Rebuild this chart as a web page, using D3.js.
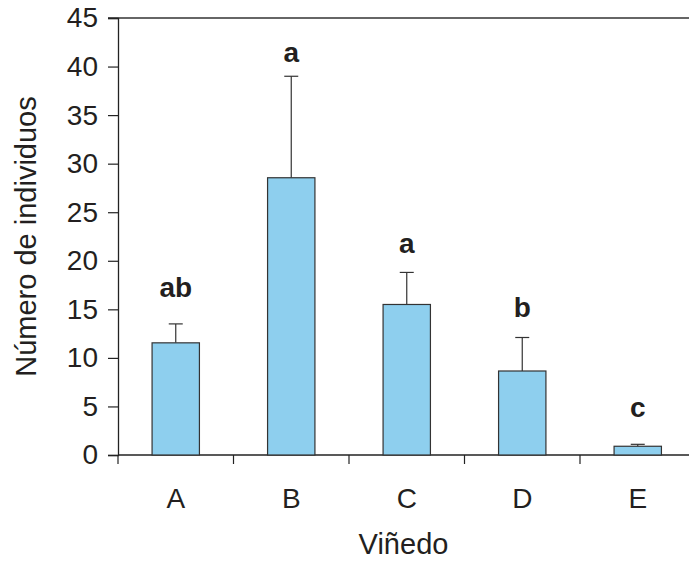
<!DOCTYPE html>
<html>
<head>
<meta charset="utf-8">
<script src="https://cdn.jsdelivr.net/npm/d3@7"></script>
<style>
  body { margin: 0; background: #fff; }
  text { font-family: "Liberation Sans", Arial, sans-serif; fill: #231f20; }
</style>
</head>
<body>
<div id="chart"></div>
<script>
var svgWidth = 689;
var svgHeight = 561;

// data
var vineyards = ["A", "B", "C", "D", "E"];
var means = [11.55, 28.55, 15.5, 8.65, 0.9];
var errTops = [13.5, 39.0, 18.8, 12.1, 1.1];
var letters = ["ab", "a", "a", "b", "c"];
var letterAt = [16.3, 40.5, 20.8, 14.2, 3.9];
var yTicks = [0, 5, 10, 15, 20, 25, 30, 35, 40, 45];

var margin = { top: 18, left: 118, bottom: 106 };
var plotBottom = svgHeight - margin.bottom; // 455

var svg = d3.select("#chart")
  .append("svg")
  .attr("width", svgWidth)
  .attr("height", svgHeight);

var x = d3.scaleBand()
  .domain(vineyards)
  .range([margin.left, margin.left + 5 * 115.5])
  .paddingInner(0.59)
  .paddingOuter(0.295);

var y = d3.scaleLinear()
  .domain([0, 45])
  .range([plotBottom, margin.top]);

// top frame line
svg.append("line")
  .attr("x1", 108).attr("x2", svgWidth)
  .attr("y1", y(45)).attr("y2", y(45))
  .attr("stroke", "#333").attr("stroke-width", 1.5);

// y axis
var leftAxis = d3.axisLeft(y).tickValues(yTicks).tickSize(10).tickPadding(10);
var gy = svg.append("g")
  .attr("transform", `translate(${margin.left},0)`)
  .call(leftAxis)
  .attr("font-size", 28)
  .attr("font-family", "Liberation Sans, Arial, sans-serif");
gy.select(".domain").attr("stroke", "#222").attr("stroke-width", 1.3);
gy.selectAll(".tick line").attr("stroke", "#222").attr("stroke-width", 1.2);
gy.selectAll(".tick text").attr("fill", "#231f20");

// x axis line
svg.append("line")
  .attr("x1", margin.left).attr("x2", svgWidth)
  .attr("y1", plotBottom).attr("y2", plotBottom)
  .attr("stroke", "#222").attr("stroke-width", 1.3);

// x ticks between categories
var step = x.step();
svg.selectAll(".xtick")
  .data(vineyards)
  .enter().append("line")
  .attr("class", "xtick")
  .attr("x1", d => x(d) - step * 0.295)
  .attr("x2", d => x(d) - step * 0.295)
  .attr("y1", plotBottom).attr("y2", plotBottom + 9)
  .attr("stroke", "#222").attr("stroke-width", 1.2);

// x labels
svg.selectAll(".xlabel")
  .data(vineyards)
  .enter().append("text")
  .attr("class", "xlabel")
  .attr("x", d => x(d) + x.bandwidth() / 2)
  .attr("y", plotBottom + 53)
  .attr("text-anchor", "middle")
  .attr("font-size", 28)
  .text(d => d);

// error bars
var bars = vineyards.map((v, i) => ({ v: v, m: means[i], e: errTops[i], l: letters[i], la: letterAt[i] }));

svg.selectAll(".err")
  .data(bars)
  .enter().append("line")
  .attr("x1", d => x(d.v) + x.bandwidth() / 2)
  .attr("x2", d => x(d.v) + x.bandwidth() / 2)
  .attr("y1", d => y(d.m))
  .attr("y2", d => y(d.e))
  .attr("stroke", "#333").attr("stroke-width", 1.2);

svg.selectAll(".cap")
  .data(bars)
  .enter().append("line")
  .attr("x1", d => x(d.v) + x.bandwidth() / 2 - 7)
  .attr("x2", d => x(d.v) + x.bandwidth() / 2 + 7)
  .attr("y1", d => y(d.e))
  .attr("y2", d => y(d.e))
  .attr("stroke", "#333").attr("stroke-width", 1.2);

// bars
svg.selectAll(".bar")
  .data(bars)
  .enter().append("rect")
  .attr("class", "bar")
  .attr("x", d => x(d.v))
  .attr("y", d => y(d.m))
  .attr("width", x.bandwidth())
  .attr("height", d => y(0) - y(d.m))
  .attr("fill", "#8ecfee")
  .attr("stroke", "#333")
  .attr("stroke-width", 1.2);

// significance letters
svg.selectAll(".sig")
  .data(bars)
  .enter().append("text")
  .attr("x", d => x(d.v) + x.bandwidth() / 2)
  .attr("y", d => y(d.la))
  .attr("text-anchor", "middle")
  .attr("font-size", 28)
  .attr("font-weight", "bold")
  .text(d => d.l);

// axis titles
svg.append("text")
  .attr("transform", `translate(36, ${(margin.top + plotBottom) / 2}) rotate(-90)`)
  .attr("text-anchor", "middle")
  .attr("font-size", 29)
  .text("Número de individuos");

svg.append("text")
  .attr("x", (margin.left + svgWidth) / 2)
  .attr("y", 554)
  .attr("text-anchor", "middle")
  .attr("font-size", 29)
  .text("Viñedo");
</script>
</body>
</html>
